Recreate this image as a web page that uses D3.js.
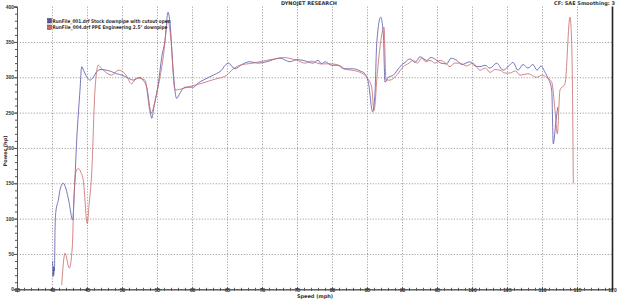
<!DOCTYPE html>
<html><head><meta charset="utf-8">
<script src="https://cdn.jsdelivr.net/npm/d3@7"></script>
<style>
html,body{margin:0;padding:0;background:#fff;}
svg{display:block;font-family:"DejaVu Sans",Verdana,sans-serif;}
</style></head>
<body><svg id="c" width="617" height="300"></svg>
<script>
const title = "DYNOJET RESEARCH";
const subtitle = "CF: SAE  Smoothing: 3";
const xLabel = "Speed (mph)";
const yLabel = "Power (hp)";
const xTicks = [35,40,45,50,55,60,65,70,75,80,85,90,95,100,105,110,115,120];
const yTicks = [0,50,100,150,200,250,300,350,400];
const seriesNames = ["RunFile_001.drf Stock downpipe with cutout open", "RunFile_004.drf PPE Engineering 2.5\" downpipe"];
const seriesColors = ["#5656a8", "#c86868"];

const blue = [[40.1,40],[40.15,18],[40.2,32],[40.25,20],[40.3,30],[40.35,26],[40.43,83],[40.55,110],[40.9,126],[41.2,143],[41.61,150],[42.0,142],[42.4,125],[42.96,98],[43.2,140],[43.53,211],[44.0,282],[44.24,315],[44.5,310],[45.0,300],[45.43,296],[45.9,300],[46.39,308],[47.0,311],[47.81,310],[48.5,308],[49.24,305],[50.0,303],[50.67,300],[51.61,296],[52.1,298],[52.57,300],[53.0,296],[53.53,286],[54.0,255],[54.24,242],[54.6,260],[55.19,291],[55.7,330],[56.14,352],[56.57,392],[56.86,377],[57.3,310],[57.81,270],[58.3,278],[59.0,286],[60.19,286],[60.9,292],[61.61,296],[63.04,303],[64.0,308],[65.19,320],[66.14,312],[67.1,318],[68.29,322],[69.4,320],[70.67,322],[71.6,325],[72.57,327],[74.0,322],[74.9,325],[75.86,324],[77.29,320],[78.0,324],[78.5,319],[79.0,322],[79.96,317],[80.9,317],[81.86,312],[83.04,312],[84.0,309],[84.71,305],[85.19,293],[85.81,251],[86.14,277],[86.39,348],[86.96,385],[87.33,362],[87.57,293],[88.04,300],[88.76,303],[89.71,315],[90.43,321],[91.14,326],[91.86,321],[92.57,329],[93.53,324],[94.14,328],[94.96,324],[95.57,320],[96.39,319],[97.0,327],[97.81,324],[98.57,318],[99.71,322],[100.43,316],[101.14,315],[101.86,317],[102.57,313],[103.53,320],[104.43,310],[105.14,315],[105.86,321],[106.57,310],[107.29,318],[108.0,313],[108.71,318],[109.29,310],[109.86,316],[110.43,307],[110.9,298],[111.39,282],[111.61,206],[112.0,239],[112.25,258]];

const red = [[41.39,6],[41.86,51],[42.47,30],[42.9,60],[43.1,120],[43.4,165],[43.76,171],[44.1,166],[44.47,154],[45.04,93],[45.3,120],[45.67,164],[46.14,282],[46.61,317],[47.1,312],[47.57,308],[48.53,303],[49.47,310],[50.43,305],[51.39,291],[52.1,299],[53.29,296],[54.1,249],[54.96,277],[55.9,329],[56.57,381],[57.0,352],[57.57,282],[58.3,283],[59.0,285],[60.43,289],[61.57,292],[62.5,295],[63.53,298],[64.96,303],[65.9,312],[66.86,317],[68.71,320],[70.67,324],[71.8,326],[73.04,328],[74.96,324],[76.14,320],[77.1,323],[78.29,319],[79.71,319],[80.67,318],[81.61,312],[82.81,310],[84.0,307],[84.96,300],[85.67,286],[86.0,253],[86.47,305],[86.86,343],[87.43,371],[87.71,296],[88.29,296],[89.24,303],[90.19,315],[91.0,320],[91.61,324],[92.2,320],[92.81,327],[93.4,322],[94.0,324],[94.7,320],[95.43,324],[96.1,321],[96.86,315],[97.5,320],[98.29,320],[99.2,316],[100.14,320],[100.7,314],[101.14,310],[101.9,313],[102.57,307],[103.3,311],[104.0,310],[104.7,306],[105.43,306],[106.2,309],[106.86,303],[108.0,305],[109.24,300],[110.0,303],[110.67,300],[111.39,293],[111.86,253],[112.19,220],[112.57,282],[113.29,291],[114.0,385],[114.24,348],[114.39,249],[114.47,150]];

const svg = d3.select("#c");
const x = d3.scaleLinear().domain([35,120]).range([17,612]);
const y = d3.scaleLinear().domain([0,400]).range([289.3,6.6]);
const txt = "#333";

// grid
const g = svg.append("g");
g.selectAll("line.vg").data(xTicks.filter(d=>d>35&&d<120)).join("line")
  .attr("x1",d=>x(d)+0.5).attr("x2",d=>x(d)+0.5).attr("y1",y(400)).attr("y2",y(0))
  .attr("stroke","#8a8a8a").attr("stroke-width",0.8).attr("stroke-dasharray","1.2,1.6");
g.selectAll("line.hg").data(yTicks.filter(d=>d>0&&d<400)).join("line")
  .attr("y1",d=>y(d)+0.5).attr("y2",d=>y(d)+0.5).attr("x1",x(35)).attr("x2",x(120))
  .attr("stroke","#8a8a8a").attr("stroke-width",0.8).attr("stroke-dasharray","1.2,1.6");

// axes
const xAxis = d3.axisBottom(x).tickValues(xTicks).tickSize(3).tickFormat(d3.format("d"));
const xMinor = d3.axisBottom(x).tickValues(d3.range(35,121,1)).tickSize(2).tickFormat("");
const yAxis = d3.axisLeft(y).tickValues(yTicks).tickSize(3).tickFormat(d3.format("d"));
const yMinor = d3.axisLeft(y).tickValues(d3.range(0,401,10)).tickSize(2).tickFormat("");

const xm = svg.append("g").attr("transform",`translate(0,${y(0)})`).call(xMinor);
xm.selectAll("line").attr("y1",-1.5).attr("y2",1.5);
const xa = svg.append("g").attr("transform",`translate(0,${y(0)})`).call(xAxis);
xa.selectAll("line").attr("y1",-2).attr("y2",2);
const ym = svg.append("g").attr("transform",`translate(${x(35)},0)`).call(yMinor);
const ya = svg.append("g").attr("transform",`translate(${x(35)},0)`).call(yAxis);
[xm,xa,ym,ya].forEach(a=>{a.select(".domain").attr("stroke","#555").attr("stroke-width",1);a.selectAll("line").attr("stroke","#555");});
xa.selectAll("text").attr("font-size",5).attr("font-weight","bold").attr("fill",txt).attr("dy","0.2em").attr("y",2);
ya.selectAll("text").attr("font-size",5).attr("font-weight","bold").attr("fill",txt).attr("x",-3);
// right border
svg.append("line").attr("x1",x(120)+0.5).attr("x2",x(120)+0.5).attr("y1",y(400)).attr("y2",y(0)+1)
  .attr("stroke","#222").attr("stroke-width",1.6);

// lines
const line = d3.line().x(d=>x(d[0])).y(d=>y(d[1])).curve(d3.curveMonotoneX);
svg.append("path").datum(blue).attr("d",line).attr("fill","none").attr("stroke",seriesColors[0]).attr("stroke-width",0.8);
svg.append("path").datum(red).attr("d",line).attr("fill","none").attr("stroke",seriesColors[1]).attr("stroke-width",0.8);

// legend
const legendLen = [118, 115];
seriesNames.forEach((n,i)=>{
  const yy = 21 + i*6.5;
  svg.append("rect").attr("x",47.5).attr("y",yy-2.5).attr("width",4).attr("height",4.5)
    .attr("fill",seriesColors[i]).attr("stroke","#222").attr("stroke-width",0.4);
  svg.append("text").attr("x",52.5).attr("y",yy).attr("dy","0.35em").attr("font-size",5)
    .attr("font-weight","bold").attr("fill",txt)
    .attr("textLength",legendLen[i]).attr("lengthAdjust","spacingAndGlyphs").text(n);
});

// titles
svg.append("text").attr("x",309).attr("y",3.4).attr("dy","0.35em").attr("text-anchor","middle")
  .attr("font-size",5).attr("font-weight","bold").attr("fill",txt).text(title);
svg.append("text").attr("x",615).attr("y",3.4).attr("dy","0.35em").attr("text-anchor","end")
  .attr("font-size",5).attr("font-weight","bold").attr("fill",txt).text(subtitle);
svg.append("text").attr("x",315).attr("y",296.7).attr("dy","0.35em").attr("text-anchor","middle")
  .attr("font-size",5).attr("font-weight","bold").attr("fill",txt).text(xLabel);
svg.append("text").attr("transform","translate(5,151) rotate(-90)").attr("dy","0.35em").attr("text-anchor","middle")
  .attr("font-size",5).attr("font-weight","bold").attr("fill",txt).text(yLabel);
</script></body></html>
